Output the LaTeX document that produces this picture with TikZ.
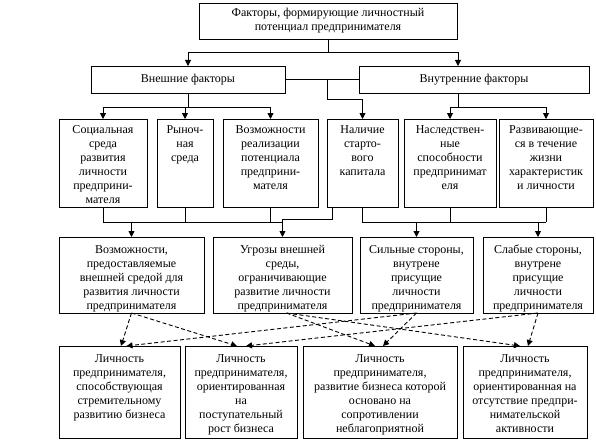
\documentclass[tikz,border=0pt]{standalone}
\usepackage{fontspec}
\setmainfont{Liberation Serif}
\usetikzlibrary{arrows.meta}
\newcommand\boxT[7]{% name,x,y,w,h,pad,text
  \node[box] (#1) at (#2,#3) {\parbox[c][#5pt][t]{#4pt}{\centering\vspace*{#6pt}\strut#7}};}
\newcommand\boxC[6]{% name,x,y,w,h,text
  \node[box] (#1) at (#2,#3) {\parbox[c][#5pt][c]{#4pt}{\centering#6}};}
\begin{document}
\begin{tikzpicture}[x=1pt,y=-1pt,
  box/.style={draw, line width=0.9pt, inner sep=0pt, outer sep=0pt, anchor=north west, font=\fontsize{12}{14}\selectfont},
  ln/.style={line width=0.9pt},
  arr/.style={ln, -{Triangle[length=6pt,width=6pt]}},
  darr/.style={arr, dash pattern=on 4pt off 2.5pt}]
\fill[white] (0,0) rectangle (596,441);
\useasboundingbox (0,0) rectangle (596,441);

% level 0 and 1
\boxC{top}{199}{3}{258}{36}{Факторы, формирующие личностный\\потенциал предпринимателя}
\boxC{ext}{91}{66}{194}{27}{Внешние факторы}
\boxC{int}{359}{66}{230}{27}{Внутренние факторы}

% level 2
\boxT{soc}{59}{119}{88}{88}{5}{Социальная\\среда\\развития\\личности\\предприни-\\мателя}
\boxT{mkt}{157}{119}{56}{88}{5}{Рыноч-\\ная\\среда}
\boxT{opp}{223}{119}{95}{88}{5}{Возможности\\реализации\\потенциала\\предприни-\\мателя}
\boxT{cap}{327}{119}{71}{88}{5}{Наличие\\старто-\\вого\\капитала}
\boxT{her}{404}{119}{92}{88}{5}{Наследствен-\\ные\\способности\\предпринимат\\еля}
\boxT{dev}{499}{119}{94}{88}{5}{Развивающие-\\ся в течение\\жизни\\характеристик\\и личности}

% level 3
\boxT{O}{59}{237}{145}{76}{7}{Возможности,\\предоставляемые\\внешней средой для\\развития личности\\предпринимателя}
\boxT{T}{213}{237}{139}{76}{7}{Угрозы внешней\\среды,\\ограничивающие\\развитие личности\\предпринимателя}
\boxT{S}{360}{237}{113}{76}{7}{Сильные стороны,\\внутрене\\присущие\\личности\\предпринимателя}
\boxT{W}{483}{237}{110}{76}{7}{Слабые стороны,\\внутрене\\присущие\\личности\\предпринимателя}

% level 4
\boxT{r1}{59}{346}{121}{92}{7}{Личность\\предпринимателя,\\способствующая\\стремительному\\развитию бизнеса}
\boxT{r2}{185}{346}{112}{92}{7}{Личность\\предпринимателя,\\ориентированная\\на\\поступательный\\рост бизнеса}
\boxT{r3}{303}{346}{154}{92}{7}{Личность\\предпринимателя,\\развитие бизнеса которой\\основано на\\сопротивлении\\неблагоприятной}
\boxT{r4}{463}{346}{124}{92}{7}{Личность\\предпринимателя,\\ориентированная на\\отсутствие предпри-\\нимательской\\активности}

% top connectors
\draw[ln] (top.south) -- ++(0,13) coordinate (jt);
\draw[arr] (jt) -| (ext.north);
\draw[arr] (jt) -| ([xshift=-16pt]int.north);
\draw[ln] (ext.east) -- (int.west);
\coordinate (jm) at (327,79.5);
\draw[arr] (jm) -- ++(0,20) -| (cap.north);

% external factors to level 2
\draw[ln] (ext.south) -- ++(0,14) coordinate (je);
\draw[ln] (soc.north |- je) -- (opp.north |- je);
\draw[arr] (soc.north |- je) -- (soc.north);
\draw[arr] (mkt.north |- je) -- (mkt.north);
\draw[arr] (opp.north |- je) -- (opp.north);

% internal factors to level 2
\draw[ln] ([xshift=-16pt]int.south) -- ++(0,14) coordinate (ji);
\draw[ln] (her.north |- ji) -- (dev.north |- ji);
\draw[arr] (her.north |- ji) -- (her.north);
\draw[arr] (dev.north |- ji) -- (dev.north);

% level 2 to level 3
\coordinate (jb) at (0,222);
\draw[ln] (soc.south) -- (soc.south |- jb) -- (T.north |- jb);
\draw[ln] (mkt.south) -- (mkt.south |- jb);
\draw[ln] (opp.south) -- (opp.south |- jb);
\draw[arr] (O.north |- jb) -- (O.north);
\draw[arr] ([xshift=-30pt]cap.south) -- ++(0,12) -| (T.north);
\draw[ln] (cap.south) -- (cap.south |- jb) -- (dev.south |- jb);
\draw[ln] (her.south) -- (her.south |- jb);
\draw[ln] (dev.south) -- (dev.south |- jb);
\draw[arr] (S.north |- jb) -- (S.north);
\draw[arr] (W.north |- jb) -- (W.north);

% level 3 to level 4 (dashed)
\draw[darr] (O.south) -- ([xshift=1.5pt]r1.north);
\draw[darr] (O.south) -- ([xshift=-4pt]r2.north);
\draw[darr] ([xshift=4pt]T.south) -- ([xshift=-5pt]r3.north);
\draw[darr] ([xshift=4pt]T.south) -- ([xshift=-5pt]r4.north);
\draw[darr] (S.south) -- ([xshift=3pt]r3.north);
\draw[darr] (S.south) -- ([xshift=7pt]r1.north);
\draw[darr] (W.south) -- ([xshift=3pt]r4.north);
\draw[darr] (W.south) -- ([xshift=5pt]r2.north);
\end{tikzpicture}
\end{document}
